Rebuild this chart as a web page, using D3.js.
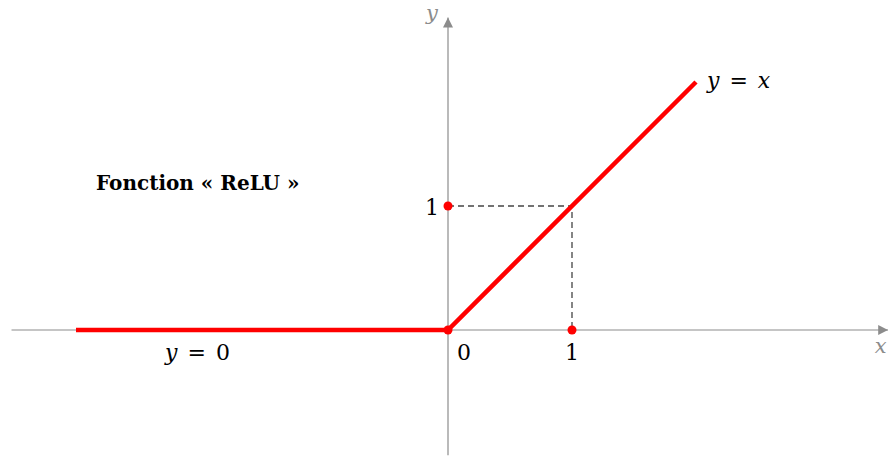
<!DOCTYPE html>
<html>
<head>
<meta charset="utf-8">
<script src="https://cdn.jsdelivr.net/npm/d3@7"></script>
<style>
  body { margin: 0; background: #fff; }
  text { font-family: "DejaVu Serif", serif; }
</style>
</head>
<body>
<div id="chart"></div>
<script>
// ReLU pieces: y = 0 for x <= 0, y = x for x >= 0
const reluX = [-3, 0, 2];
const reluY = [0, 0, 2];
// marked points on the axes and at (1,1)
const markX = [0, 1, 0];
const markY = [0, 0, 1];
const xTicks = [0, 1];
const yTicks = [1];
const title = "Fonction « ReLU »";

const width = 888, height = 456;
const svg = d3.select("#chart").append("svg")
    .attr("width", width)
    .attr("height", height);

// one unit = 124 px on both axes
const xScale = d3.scaleLinear().domain([0, 1]).range([448, 572]);
const yScale = d3.scaleLinear().domain([0, 1]).range([330, 206]);

const axisColor = "#8c8c8c";

svg.append("defs").append("marker")
    .attr("id", "arrow")
    .attr("viewBox", "0 0 10 10")
    .attr("refX", 10).attr("refY", 5)
    .attr("markerWidth", 10).attr("markerHeight", 10)
    .attr("markerUnits", "userSpaceOnUse")
    .attr("orient", "auto")
    .append("path")
    .attr("d", "M0,0 L10,5 L0,10 Z")
    .attr("fill", axisColor);

// Axes
svg.append("line")
    .attr("x1", xScale(-3.52)).attr("x2", xScale(3.55))
    .attr("y1", yScale(0)).attr("y2", yScale(0))
    .attr("stroke", axisColor).attr("stroke-width", 1.2)
    .attr("marker-end", "url(#arrow)");
svg.append("line")
    .attr("x1", xScale(0)).attr("x2", xScale(0))
    .attr("y1", yScale(-1.01)).attr("y2", yScale(2.52))
    .attr("stroke", axisColor).attr("stroke-width", 1.2)
    .attr("marker-end", "url(#arrow)");

svg.append("text")
    .attr("x", xScale(3.49)).attr("y", yScale(0) + 23)
    .attr("fill", axisColor).attr("font-style", "italic")
    .attr("font-size", 21).attr("text-anchor", "middle")
    .text("x");
svg.append("text")
    .attr("x", xScale(-0.13)).attr("y", yScale(2.5))
    .attr("fill", axisColor).attr("font-style", "italic")
    .attr("font-size", 21).attr("text-anchor", "middle")
    .text("y");

// Dashed guides to (1,1)
svg.append("path")
    .attr("d", d3.line()([[xScale(0), yScale(1)], [xScale(1), yScale(1)], [xScale(1), yScale(0)]]))
    .attr("fill", "none")
    .attr("stroke", "#444")
    .attr("stroke-width", 1.3)
    .attr("stroke-dasharray", "6,4");

// ReLU curve
const line = d3.line()
    .x((d, i) => xScale(reluX[i]))
    .y((d, i) => yScale(reluY[i]));
svg.append("path")
    .datum(reluX)
    .attr("d", line)
    .attr("fill", "none")
    .attr("stroke", "#ff0000")
    .attr("stroke-width", 4.5);

// Marked points
svg.selectAll(".mark")
    .data(markX)
    .enter()
    .append("circle")
    .attr("class", "mark")
    .attr("cx", (d, i) => xScale(markX[i]))
    .attr("cy", (d, i) => yScale(markY[i]))
    .attr("r", 4.5)
    .attr("fill", "#ff0000");

// Tick labels
svg.selectAll(".xtick")
    .data(xTicks)
    .enter()
    .append("text")
    .attr("x", d => d === 0 ? xScale(d) + 16 : xScale(d))
    .attr("y", yScale(0) + 30)
    .attr("font-size", 22)
    .attr("text-anchor", "middle")
    .text(d => d);
svg.selectAll(".ytick")
    .data(yTicks)
    .enter()
    .append("text")
    .attr("x", xScale(0) - 9)
    .attr("y", d => yScale(d) + 9)
    .attr("font-size", 22)
    .attr("text-anchor", "end")
    .text(d => d);

// Curve labels
svg.append("text")
    .attr("x", xScale(2) + 11).attr("y", yScale(2) + 6)
    .attr("font-size", 22)
    .attr("word-spacing", 3)
    .html('<tspan font-style="italic">y</tspan> = <tspan font-style="italic">x</tspan>');
svg.append("text")
    .attr("x", xScale(-2.02)).attr("y", yScale(0) + 30)
    .attr("font-size", 22)
    .attr("word-spacing", 3)
    .attr("text-anchor", "middle")
    .html('<tspan font-style="italic">y</tspan> = 0');

// Title
svg.append("text")
    .attr("x", 96).attr("y", 190)
    .attr("font-size", 20)
    .attr("font-weight", "bold")
    .text(title);
</script>
</body>
</html>
